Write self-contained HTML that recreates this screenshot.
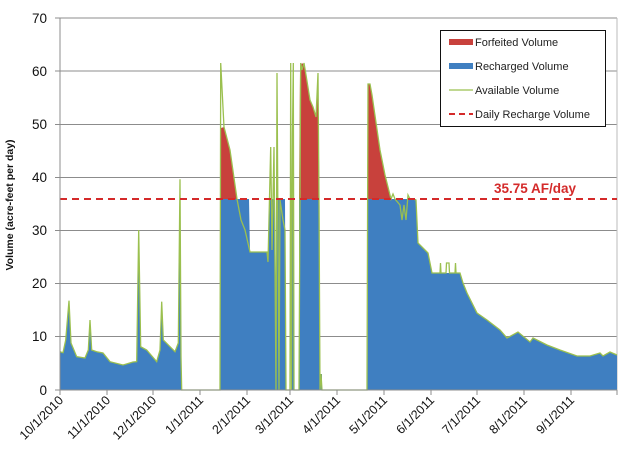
<!DOCTYPE html>
<html><head><meta charset="utf-8"><style>
html,body{margin:0;padding:0;background:#fff;}
svg{display:block;font-family:"Liberation Sans",sans-serif;}
</style></head><body>
<svg width="625" height="466" viewBox="0 0 625 466" xmlns="http://www.w3.org/2000/svg">
<rect width="625" height="466" fill="#fff"/>
<g stroke="#8c8c8c" stroke-width="1">
<line x1="55" y1="18" x2="617" y2="18"/>
<line x1="55" y1="71" x2="617" y2="71"/>
<line x1="55" y1="124.5" x2="617" y2="124.5"/>
<line x1="55" y1="177.5" x2="617" y2="177.5"/>
<line x1="55" y1="230.5" x2="617" y2="230.5"/>
<line x1="55" y1="283.5" x2="617" y2="283.5"/>
<line x1="55" y1="336.5" x2="617" y2="336.5"/>
</g>
<line x1="617" y1="18" x2="617" y2="390" stroke="#bbb"/>
<g fill="#3f7fc1">
<polygon points="60,390 60,351.7 63,352.7 65.7,340 69,300.7 71,343 76.7,356.7 85,358 88.3,350 90,320 91.7,350 96.7,351.7 103,353 110,361.7 123,365 133,362 136.7,361.7 138.7,230 140.7,346.7 146.7,350 156.7,361.7 160,350 161.7,301.7 163.3,340 170,346.7 175,351.7 178.3,343 180,179.3 181,356.7 181.7,390"/>
<polygon points="220,390 220,199 249,199 250,252 267,252 268,262 270,199 275,199 276,390 277,199 285,199 286,390"/>
<polygon points="291,390 291,199 294,199 294,390"/>
<polygon points="299,390 299,199 319.5,199 320,390"/>
<polygon points="320.5,390 320.5,374 322,374 322,390"/>
<polygon points="367.5,390 368,199 416,199 418,243 428,253 432,273 460,273 463,283 467,293 477,313 487,320 500,330 507,338 518,332 530,342 533,338 547,345 560,350 577,356 590,356 600,353 603,356 610,352 617,355 617,390"/>
</g>
<g fill="#c8413c">
<polygon points="221,199 221,128 224,127 230,150 237,199"/>
<polygon points="299,199 300,70 302,63 304,65 306,75 310,100 313,107 316,117 318,73 319.5,199"/>
<polygon points="368,199 368,84 370,84 372,95 380,150 385,175 391,199"/>
</g>
<polyline fill="none" stroke="#9bc04f" stroke-width="1.3" points="60,351.7 63,352.7 65.7,340 69,300.7 71,343 76.7,356.7 85,358 88.3,350 90,320 91.7,350 96.7,351.7 103,353 110,361.7 123,365 133,362 136.7,361.7 138.7,230 140.7,346.7 146.7,350 156.7,361.7 160,350 161.7,301.7 163.3,340 170,346.7 175,351.7 178.3,343 180,179.3 181,356.7 181.7,390 220,390 220.7,63 224,127 230,150 237,199 241,220 245,230 250,252 267,252 268,262 270.7,147 272,250 274,147 276,390 277,73 279,390 280,200 283,220 285,230 286,390 290,390 290.7,63 291.5,390 292.5,134 293.3,63 294,390 299,390 300.7,63 302,70 304,63 306,75 310,100 313,107 316,117 318,73 319,200 320,390 321,374 322,390 367,390 368,84 370,84 372,95 380,150 385,175 391,199 393,194 395,199 400,205 402,220 404,205 406,220 408,195 410,199 413,199 416,200 418,243 428,253 432,273 440,273 440.5,263 441,273 446,273 446.5,263 449,263 449.5,273 455,273 455.5,263 456,273 460,273 463,283 467,293 477,313 487,320 500,330 507,338 518,332 530,342 533,338 547,345 560,350 577,356 590,356 600,353 603,356 610,352 617,355"/>
<line x1="60" y1="199" x2="617" y2="199" stroke="#d42a2a" stroke-width="2" stroke-dasharray="7,5"/>
<text x="494" y="193" font-size="13.5" font-weight="bold" fill="#d42a2a">35.75 AF/day</text>
<line x1="60" y1="18" x2="60" y2="390" stroke="#8c8c8c"/>
<line x1="60" y1="390" x2="617" y2="390" stroke="#8c8c8c"/>
<g stroke="#8c8c8c">
<line x1="55" y1="390" x2="60" y2="390"/>
<line x1="60" y1="390" x2="60" y2="395"/><line x1="107" y1="390" x2="107" y2="395"/><line x1="153" y1="390" x2="153" y2="395"/><line x1="200" y1="390" x2="200" y2="395"/><line x1="247" y1="390" x2="247" y2="395"/><line x1="290" y1="390" x2="290" y2="395"/><line x1="337" y1="390" x2="337" y2="395"/><line x1="384" y1="390" x2="384" y2="395"/><line x1="431" y1="390" x2="431" y2="395"/><line x1="477" y1="390" x2="477" y2="395"/><line x1="524" y1="390" x2="524" y2="395"/><line x1="571" y1="390" x2="571" y2="395"/><line x1="617" y1="390" x2="617" y2="395"/>
</g>
<g font-size="13.5" fill="#111" text-anchor="end">
<text x="47" y="23">70</text><text x="47" y="76">60</text><text x="47" y="129">50</text><text x="47" y="182">40</text><text x="47" y="235">30</text><text x="47" y="288">20</text><text x="47" y="341">10</text><text x="47" y="395">0</text>
</g>
<text transform="translate(13,205) rotate(-90)" font-size="10.5" font-weight="bold" text-anchor="middle" fill="#111">Volume (acre-feet per day)</text>
<g font-size="12.5" fill="#111" text-anchor="end">
<text transform="translate(64,401) rotate(-45)">10/1/2010</text>
<text transform="translate(111,401) rotate(-45)">11/1/2010</text>
<text transform="translate(157,401) rotate(-45)">12/1/2010</text>
<text transform="translate(204,401) rotate(-45)">1/1/2011</text>
<text transform="translate(251,401) rotate(-45)">2/1/2011</text>
<text transform="translate(294,401) rotate(-45)">3/1/2011</text>
<text transform="translate(341,401) rotate(-45)">4/1/2011</text>
<text transform="translate(388,401) rotate(-45)">5/1/2011</text>
<text transform="translate(435,401) rotate(-45)">6/1/2011</text>
<text transform="translate(481,401) rotate(-45)">7/1/2011</text>
<text transform="translate(528,401) rotate(-45)">8/1/2011</text>
<text transform="translate(575,401) rotate(-45)">9/1/2011</text>
</g>
<rect x="440.5" y="30.5" width="165" height="96" fill="#fff" stroke="#111"/>
<rect x="449" y="39" width="24" height="6" fill="#c8413c"/>
<rect x="449" y="63" width="24" height="6" fill="#3f7fc1"/>
<line x1="449" y1="90" x2="473" y2="90" stroke="#9bc04f" stroke-width="1.3"/>
<line x1="449" y1="114" x2="473" y2="114" stroke="#d42a2a" stroke-width="2" stroke-dasharray="6,4"/>
<g font-size="11" fill="#222">
<text x="475" y="46">Forfeited Volume</text>
<text x="475" y="70">Recharged Volume</text>
<text x="475" y="94">Available Volume</text>
<text x="475" y="118">Daily Recharge Volume</text>
</g>
</svg>
</body></html>
